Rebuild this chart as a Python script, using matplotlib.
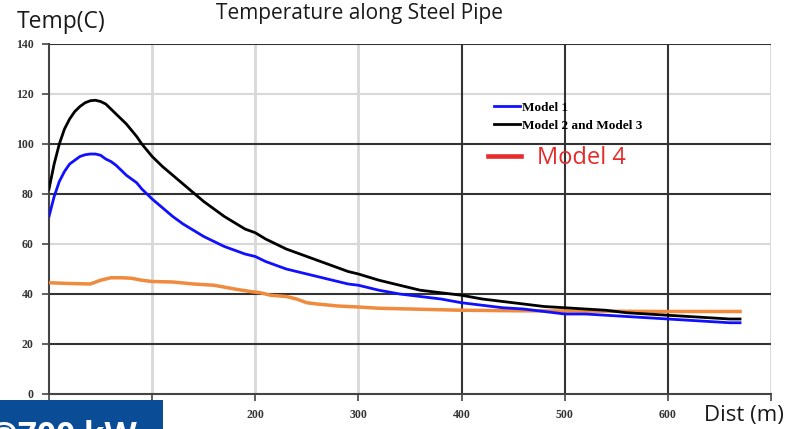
import matplotlib
matplotlib.use('Agg')
import matplotlib.pyplot as plt
from matplotlib.lines import Line2D
from matplotlib.patches import Rectangle

# distance along pipe (m) and temperatures (C)
dist_black = [0, 5, 10, 15, 20, 25, 30, 35, 40, 45, 50, 55, 60, 65, 70, 75, 80, 85, 90, 100,
              110, 120, 130, 140, 150, 160, 170, 180, 190, 200, 210, 220, 230, 240, 250, 260,
              270, 280, 290, 300, 320, 340, 360, 380, 400, 420, 440, 460, 480, 500, 520, 540,
              560, 580, 600, 620, 640, 660, 670]
temp_black = [82, 92, 100, 106, 110, 113, 115, 116.5, 117.3, 117.5, 117, 116, 114, 112, 110, 108,
              105.5, 103, 100, 95, 91, 87.5, 84, 80.5, 77, 74, 71, 68.5, 66, 64.5, 62, 60, 58, 56.5,
              55, 53.5, 52, 50.5, 49, 48, 45.5, 43.5, 41.5, 40.5, 39.5, 38, 37, 36, 35, 34.5, 34,
              33.5, 32.5, 32, 31.5, 31, 30.5, 30, 30]

dist_blue = dist_black
temp_blue = [71, 79, 85, 89, 92, 93.5, 95, 95.7, 96, 96, 95.5, 94, 93, 91.5, 89.5, 87.5, 86, 84.5,
             82, 78, 74.5, 71, 68, 65.5, 63, 61, 59, 57.5, 56, 55, 53, 51.5, 50, 49, 48, 47, 46,
             45, 44, 43.5, 41.5, 40, 39, 38, 36.5, 35.5, 34.5, 34, 33, 32, 32, 31.5, 31, 30.5, 30,
             29.5, 29, 28.5, 28.5]

dist_orange = [0, 20, 40, 50, 60, 70, 80, 90, 100, 120, 140, 160, 180, 195, 205, 215, 230, 240,
               250, 260, 280, 300, 320, 350, 400, 450, 500, 550, 600, 670]
temp_orange = [44.5, 44.2, 44, 45.5, 46.5, 46.5, 46.3, 45.5, 45, 44.8, 44, 43.5, 42, 41, 40.5,
               39.5, 39, 38, 36.5, 36, 35.2, 34.8, 34.3, 34, 33.5, 33.3, 33.2, 33.1, 33, 33]

y_ticks = [0, 20, 40, 60, 80, 100, 120, 140]
x_ticks = [0, 100, 200, 300, 400, 500, 600, 700]
x_labels = ['', '', '200', '300', '400', '500', '600', '']
dark_y = [20, 40, 80, 100]
light_y = [60, 120]
dark_x = [400, 500, 600]
light_x = [100, 200, 300, 700]

fig = plt.figure(figsize=(8.09, 4.29), dpi=100)
ax = fig.add_axes([49 / 809, 1 - 394 / 429, 722 / 809, 350 / 429])
ax.set_xlim(0, 700)
ax.set_ylim(0, 140)

# mixed grid like the original
for v in light_y:
    ax.axhline(v, color='#d8d8d8', lw=1.5, zorder=1)
for v in light_x:
    ax.axvline(v, color='#d8d8d8', lw=2, zorder=1)
for v in dark_y:
    ax.axhline(v, color='#333333', lw=1.5, zorder=1)
for v in dark_x:
    ax.axvline(v, color='#333333', lw=1.5, zorder=1)

ax.plot(dist_orange, temp_orange, color='#f08a3c', lw=2.5, zorder=3)
ax.plot(dist_blue, temp_blue, color='#1010ff', lw=2, zorder=4)
ax.plot(dist_black, temp_black, color='black', lw=2, zorder=5)

for s in ['top', 'right']:
    ax.spines[s].set_visible(False)
ax.axhline(140, color='#333333', lw=1.5, zorder=1)
ax.spines['left'].set_color('#444444')
ax.spines['bottom'].set_color('#444444')
ax.spines['left'].set_linewidth(1.5)
ax.spines['bottom'].set_linewidth(1.5)

ax.set_yticks(y_ticks)
ax.set_xticks(x_ticks)
ax.set_xticklabels(x_labels)
ax.tick_params(length=5, width=1.2, color='#444444', labelsize=8.5, labelcolor='#333333', pad=6)
for lab in ax.get_xticklabels() + ax.get_yticklabels():
    lab.set_family('Liberation Serif')
    lab.set_weight('bold')

# legend
h1 = [Line2D([], [], color='#1010ff', lw=2), Line2D([], [], color='black', lw=2)]
leg = ax.legend(h1, ['Model 1', 'Model 2 and Model 3'], loc='upper left',
                bbox_to_anchor=(0.6, 0.87), frameon=False, handlelength=2.0,
                handletextpad=0.15, labelspacing=0.45,
                prop={'family': 'Liberation Serif', 'weight': 'bold', 'size': 9.5})
ax.add_artist(leg)
h2 = [Line2D([], [], color='#e82a2a', lw=3.3)]
ax.legend(h2, ['Model 4'], loc='upper left', bbox_to_anchor=(0.579, 0.768), frameon=False,
          handlelength=1.4, handletextpad=0.65, labelcolor='#e82a2a',
          prop={'family': 'Open Sans', 'size': 17})

fig.text(359 / 809, 1 - 14 / 429, 'Temperature along Steel Pipe', ha='center', va='center',
         fontsize=15, family='Open Sans', color='#1a1a1a')
fig.text(17 / 809, 1 - 22 / 429, 'Temp(C)', ha='left', va='center', fontsize=16.5,
         family='Open Sans', color='#1a1a1a')
fig.text(704 / 809, 1 - 416 / 429, 'Dist (m)', ha='left', va='center', fontsize=16,
         family='Open Sans', color='#1a1a1a')

# blue label box at bottom left
fig.patches.append(Rectangle((0, 0), 163 / 809, 29 / 429, transform=fig.transFigure,
                             facecolor='#0b4c97', edgecolor='none', zorder=10))
fig.text(-12 / 809, -24 / 429, '@700 kW', ha='left', va='bottom', fontsize=24,
         family='Open Sans', weight='bold', color='white', zorder=11)

fig.savefig('out.png', dpi=100)
